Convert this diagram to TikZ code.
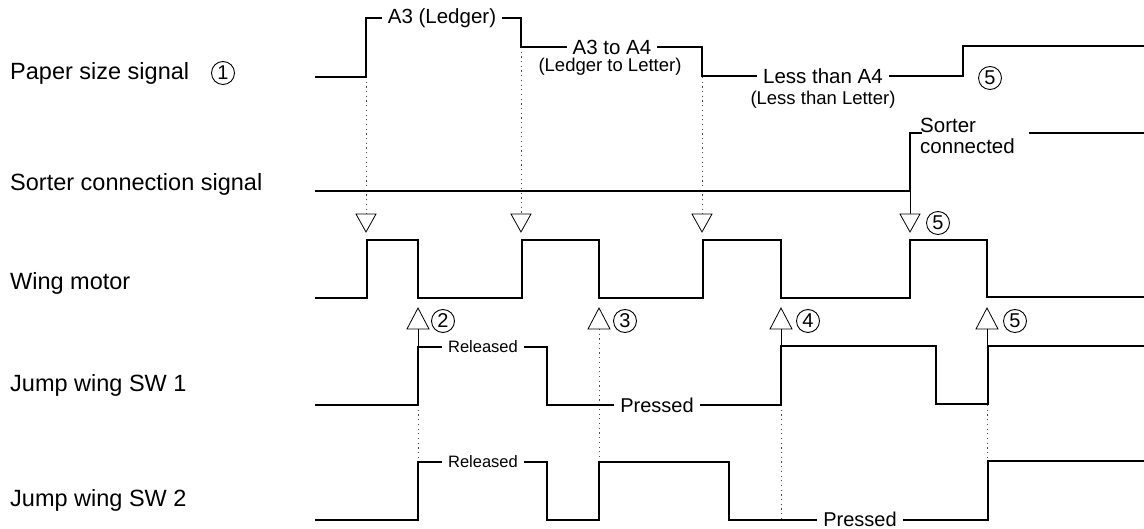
\documentclass[tikz,border=0pt]{standalone}
\usepackage{fontspec}
\setmainfont{Liberation Sans}
\begin{document}
\begin{tikzpicture}[x=1pt,y=-1pt,
  sig/.style={line width=2.6pt, line join=miter},
  thin/.style={line width=0.8pt},
  dots/.style={line width=0.9pt, black!70, dash pattern=on 1.2pt off 3.5pt},
  tri/.style={line width=0.8pt, fill=white},
  lab/.style={anchor=west, inner sep=0pt, font=\fontsize{23.5}{27}\selectfont},
  onl/.style={fill=white, inner xsep=6pt, inner ysep=1pt, font=\fontsize{20.5}{24}\selectfont},
  sub/.style={inner sep=0pt, font=\fontsize{18.5}{22}\selectfont},
  rel/.style={fill=white, inner xsep=6pt, inner ysep=1pt, font=\fontsize{16.5}{19}\selectfont},
  prs/.style={fill=white, inner xsep=6pt, inner ysep=0pt, font=\fontsize{20}{23}\selectfont},
  circ/.style={circle, draw, line width=0.9pt, minimum size=23pt, inner sep=0pt, font=\fontsize{20}{20}\selectfont},
  pics/dtri/.style={code={\draw[tri] (-10,0) -- (10,0) -- (0,18) -- cycle;}},
  pics/utri/.style={code={\draw[tri] (0,0) -- (11,21) -- (-11,21) -- cycle;}}
]
\useasboundingbox (0,0) rectangle (1144,529);

% left labels
\node[lab] (lpaper) at (10,73) {Paper size signal};
\node[circ] (c1) at (223,73) {1};
\node[lab] (lsorter) at (10,184) {Sorter connection signal};
\node[lab] (lwing) at (10,283) {Wing motor};
\node[lab] (lsw1) at (10,385) {Jump wing SW 1};
\node[lab] (lsw2) at (10,500) {Jump wing SW 2};

% dotted links from paper size signal to wing motor triangles
\draw[dots] (366,77) -- (366,214);
\draw[dots] (521,47) -- (521,214);
\draw[dots] (702,77) -- (702,214);
\draw[thin] (910,191) -- (910,214);

% dotted links from triangles to switches
\draw[thin] (418,329) -- (418,347);
\draw[dots] (418,405) -- (418,462);
\draw[dots] (599,329) -- (599,462);
\draw[thin] (781,329) -- (781,346);
\draw[dots] (781,405) -- (781,520);
\draw[thin] (987,329) -- (987,346);
\draw[dots] (987,405) -- (987,462);

% paper size signal
\draw[sig] (315,77) -- (366,77) -- (366,18) -- (521,18) -- (521,47) -- (702,47) -- (702,76) -- (963,76) -- (963,46) -- (1144,46);
\node[onl] (a3) at (442,18) {A3 (Ledger)};
\node[onl] (a3a4) at (612,47) {A3 to A4};
\node[sub] (ltl) at (610,67) {(Ledger to Letter)};
\node[onl] (lta4) at (823,76) {Less than A4};
\node[sub] (ltlet) at (823,100) {(Less than Letter)};
\node[circ] (c5a) at (990,78) {5};

% sorter connection signal
\draw[sig] (315,191) -- (910,191) -- (910,133) -- (922,133);
\draw[sig] (1029,133) -- (1144,133);
\node[inner sep=0pt, anchor=west, font=\fontsize{20.5}{22}\selectfont, align=left] (sc) at (920,136) {Sorter\\[-1pt]connected};

% wing motor
\draw[sig] (315,298) -- (367,298) -- (367,240) -- (418,240) -- (418,298) -- (522,298) -- (522,240) -- (599,240) -- (599,298) -- (703,298) -- (703,240) -- (781,240) -- (781,298) -- (910,298) -- (910,240) -- (987,240) -- (987,297) -- (1144,297);

% down triangles
\pic at (366,214) {dtri};
\pic at (521,214) {dtri};
\pic at (702,214) {dtri};
\pic at (910,214) {dtri};
\node[circ] (c5b) at (938,223) {5};

% up triangles
\pic at (418,308) {utri};
\node[circ] (c2) at (443,321) {2};
\pic at (599,308) {utri};
\node[circ] (c3) at (625,321) {3};
\pic at (781,308) {utri};
\node[circ] (c4) at (808,321) {4};
\pic at (987,308) {utri};
\node[circ] (c5c) at (1015,321) {5};

% jump wing SW1
\draw[sig] (315,405) -- (418,405) -- (418,347) -- (547,347) -- (547,405) -- (781,405) -- (781,346) -- (936,346) -- (936,404) -- (988,404) -- (988,346) -- (1144,346);
\node[rel] (r1) at (483,347) {Released};
\node[prs] (p1) at (657,405) {Pressed};

% jump wing SW2
\draw[sig] (315,520) -- (418,520) -- (418,462) -- (547,462) -- (547,520) -- (599,520) -- (599,462) -- (729,462) -- (729,520) -- (988,520) -- (988,461) -- (1144,461);
\node[rel] (r2) at (483,462) {Released};
\node[prs] (p2) at (860,519) {Pressed};
\end{tikzpicture}
\end{document}
